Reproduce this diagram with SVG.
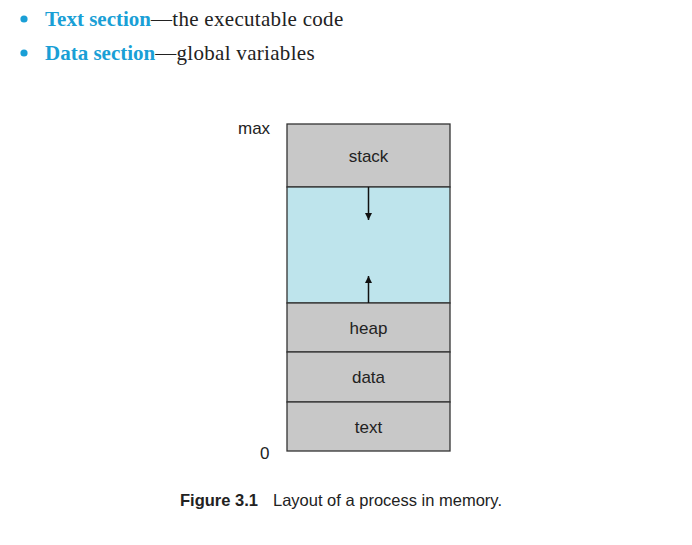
<svg xmlns="http://www.w3.org/2000/svg" width="692" height="545" viewBox="0 0 692 545">
<style>
.seg{fill:#c8c8c8;stroke:#333;stroke-width:1.3}
.free{fill:#bee4ec;stroke:#333;stroke-width:1.3}
.lbl{font-family:"Liberation Sans",Arial,sans-serif;font-size:17px;fill:#222;text-anchor:middle}
.axis{font-family:"Liberation Sans",Arial,sans-serif;font-size:17px;fill:#222}
.bul{font-family:"Liberation Serif","Times New Roman",serif;font-size:21px;fill:#222}
.kw{fill:#1a9fd6;font-weight:bold}
.rest{letter-spacing:0.3px}
.cap{font-family:"Liberation Sans",Arial,sans-serif;font-size:16.5px;fill:#222}
.conn{stroke:#111;stroke-width:1.5;fill:none}
</style>
<defs>
<marker id="ah" viewBox="0 0 10 10" refX="10" refY="5" markerWidth="7" markerHeight="8" markerUnits="userSpaceOnUse" orient="auto">
<path d="M0,0 L10,5 L0,10 z" fill="#111"/>
</marker>
</defs>
<rect width="692" height="545" fill="#fff"/>
<g id="bullets">
<circle cx="24" cy="19" r="3.6" fill="#1a9fd6"/>
<text class="bul" x="45" y="26"><tspan class="kw">Text section</tspan><tspan class="rest">—the executable code</tspan></text>
<circle cx="24" cy="53" r="3.6" fill="#1a9fd6"/>
<text class="bul" x="45" y="60"><tspan class="kw">Data section</tspan><tspan class="rest">—global variables</tspan></text>
</g>
<g id="stack"><rect class="seg" x="287" y="124" width="163" height="63"/><text class="lbl" x="368.5" y="162">stack</text></g>
<g id="free"><rect class="free" x="287" y="187" width="163" height="116"/></g>
<g id="heap"><rect class="seg" x="287" y="303" width="163" height="49"/><text class="lbl" x="368.5" y="334">heap</text></g>
<g id="data"><rect class="seg" x="287" y="352" width="163" height="50"/><text class="lbl" x="368.5" y="383">data</text></g>
<g id="text"><rect class="seg" x="287" y="402" width="163" height="49"/><text class="lbl" x="368.5" y="433">text</text></g>
<g id="connectors">
<line class="conn" x1="368.5" y1="187" x2="368.5" y2="220" marker-end="url(#ah)"/>
<line class="conn" x1="368.5" y1="303" x2="368.5" y2="276" marker-end="url(#ah)"/>
</g>
<g id="axis">
<text class="axis" x="238" y="134">max</text>
<text class="axis" x="260" y="459">0</text>
</g>
<g id="caption">
<text class="cap" x="180" y="506"><tspan font-weight="bold">Figure 3.1</tspan><tspan x="273">Layout of a process in memory.</tspan></text>
</g>
</svg>
